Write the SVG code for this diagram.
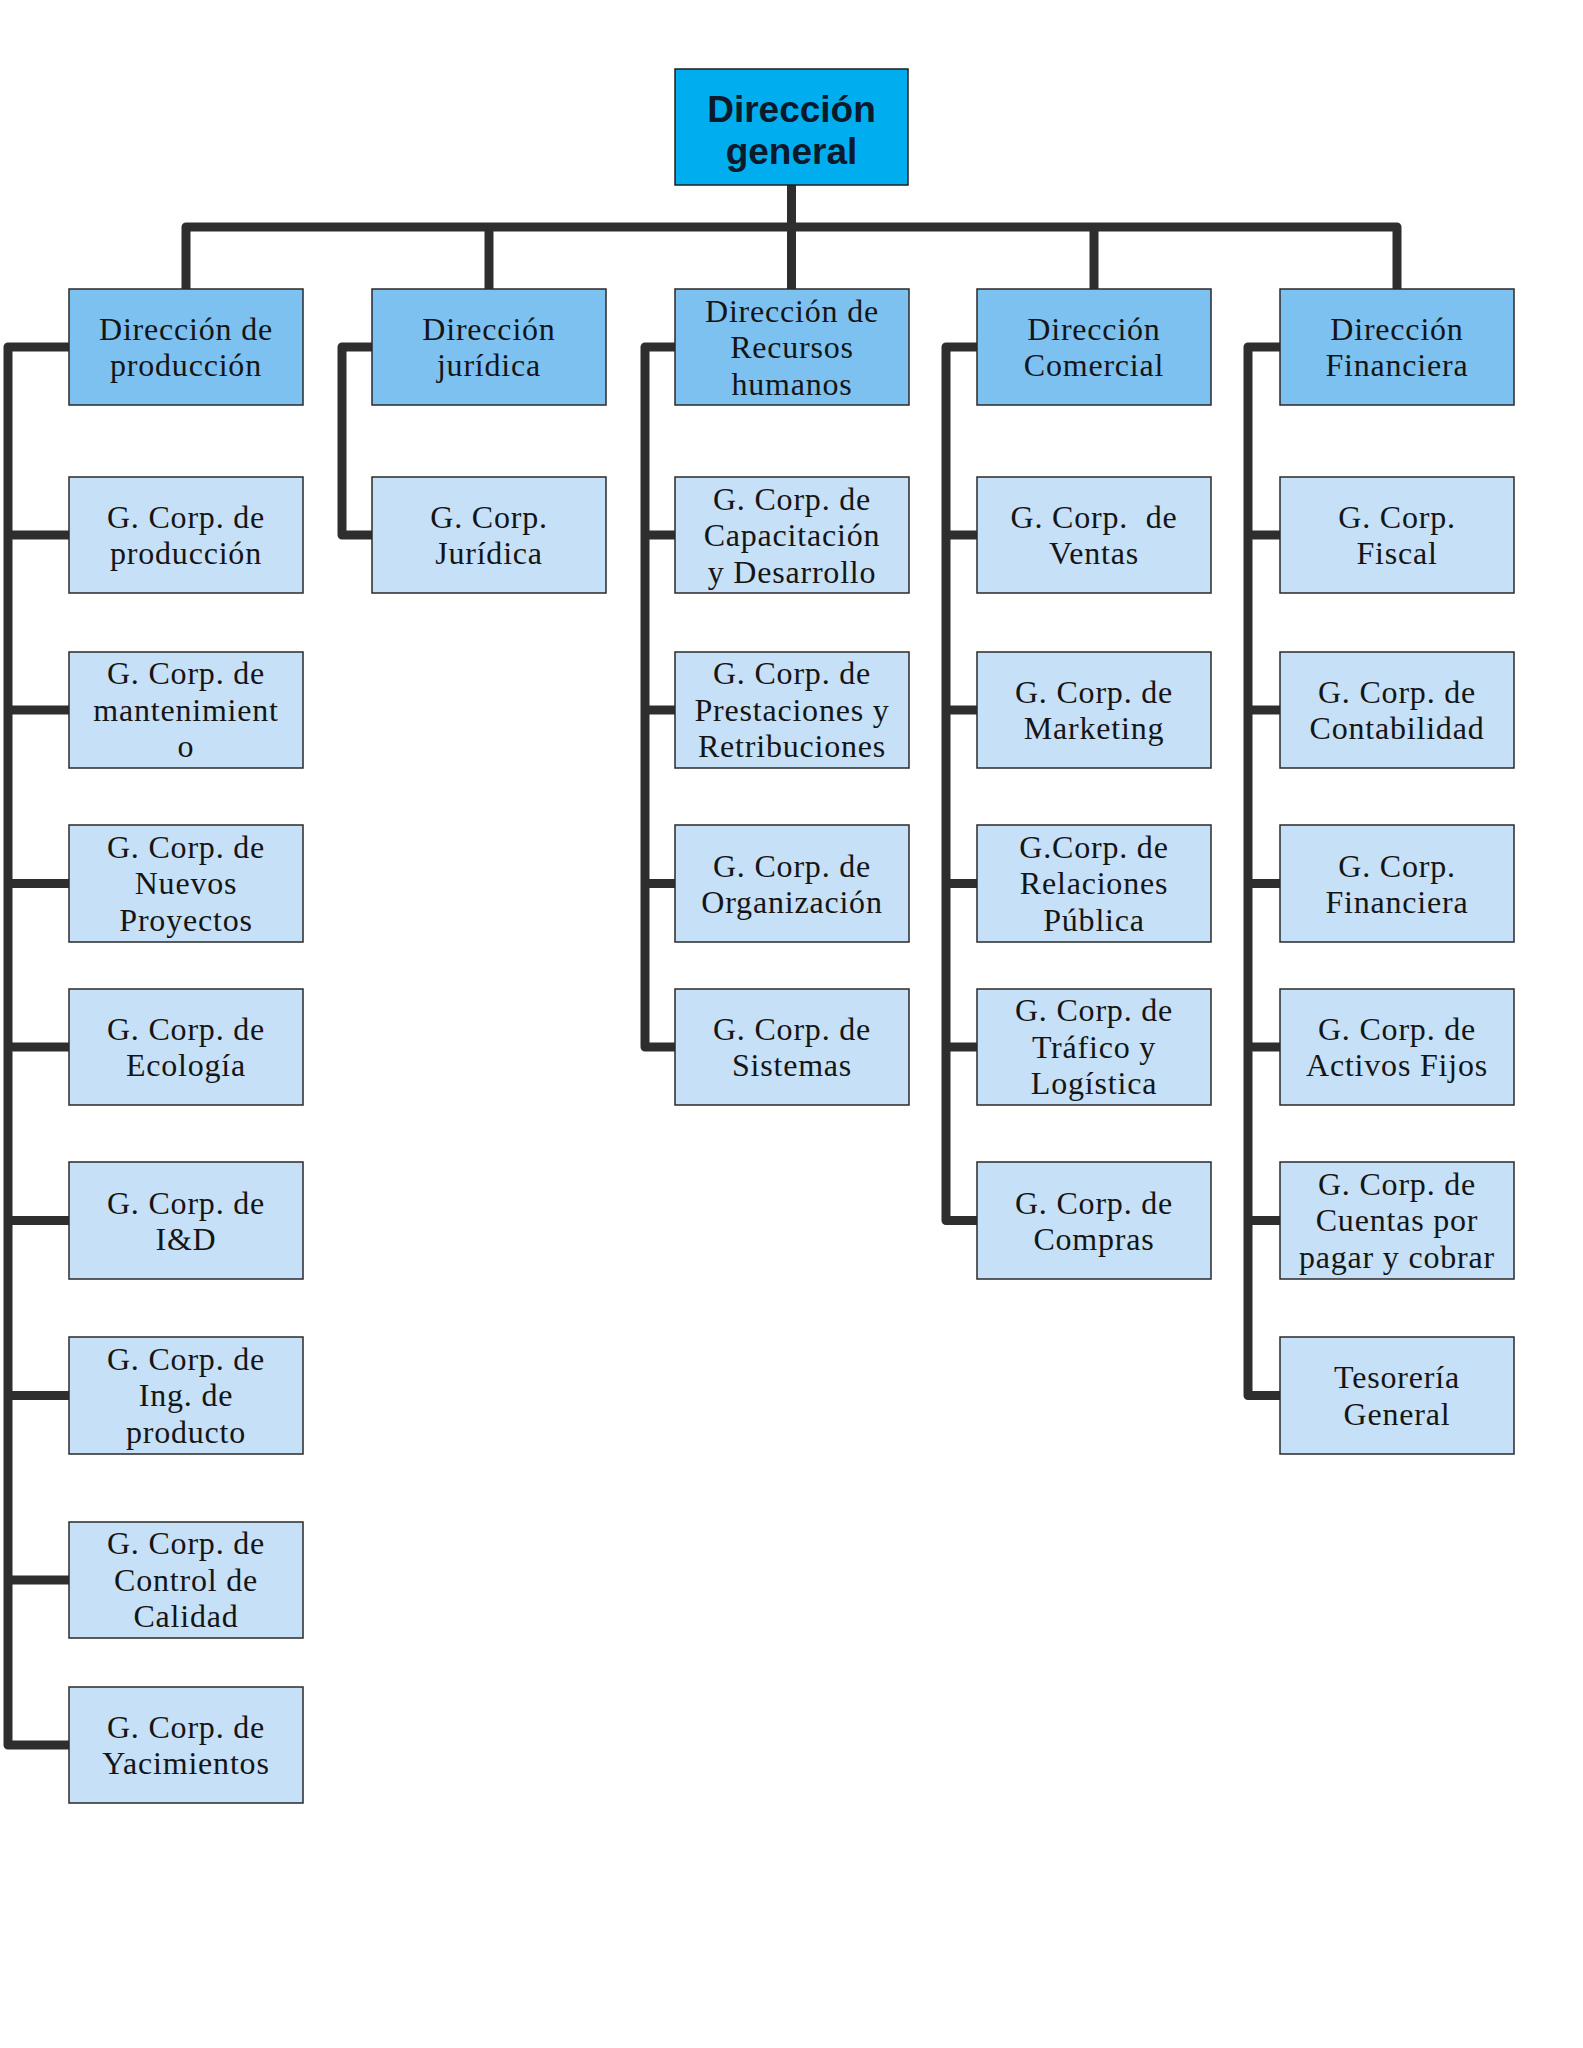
<svg xmlns="http://www.w3.org/2000/svg" width="1583" height="2048" viewBox="0 0 1583 2048">
<style>
.top{fill:#00AEEF;stroke:#1f1f1f;stroke-width:1.5}
.l2{fill:#7DC1F0;stroke:#2a2a2a;stroke-width:1.5}
.ch{fill:#C6E0F8;stroke:#2a2a2a;stroke-width:1.5}
.tt{font-family:"Liberation Sans",Arial,sans-serif;font-weight:bold;font-size:37px;fill:#0a1a2a;text-anchor:middle}
.t{font-family:"Liberation Serif","Times New Roman",serif;font-size:32px;letter-spacing:0.8px;fill:#151515;text-anchor:middle}
.c{fill:none;stroke:#2e2e2e;stroke-width:9;stroke-linejoin:round}
</style>
<rect width="1583" height="2048" fill="#ffffff"/>
<g id="connectors">
<path class="c" d="M791.5 185 V227"/>
<path class="c" d="M186 289 V227 H1397 V289"/>
<path class="c" d="M489 227 V289"/>
<path class="c" d="M791.5 227 V289"/>
<path class="c" d="M1094 227 V289"/>
<path class="c" d="M69 347 H8 V1745 H69"/>
<path class="c" d="M8 535 H69 M8 710 H69 M8 883.5 H69 M8 1047 H69 M8 1220.5 H69 M8 1395.5 H69 M8 1580 H69"/>
<path class="c" d="M372 347 H342 V535 H372"/>
<path class="c" d="M675 347 H645 V1047 H675"/>
<path class="c" d="M645 535 H675 M645 710 H675 M645 883.5 H675"/>
<path class="c" d="M977 347 H946 V1220.5 H977"/>
<path class="c" d="M946 535 H977 M946 710 H977 M946 883.5 H977 M946 1047 H977"/>
<path class="c" d="M1280 347 H1248 V1395.5 H1280"/>
<path class="c" d="M1248 535 H1280 M1248 710 H1280 M1248 883.5 H1280 M1248 1047 H1280 M1248 1220.5 H1280"/>
</g>
<g id="n-direccion-general"><rect class="top" x="675" y="69" width="233" height="116"/><text class="tt" x="791.5" y="122">Dirección</text><text class="tt" x="791.5" y="164">general</text></g>
<g id="n-dir-produccion"><rect class="l2" x="69" y="289" width="234" height="116"/><text class="t" x="186" y="340">Dirección de</text><text class="t" x="186" y="376">producción</text></g>
<g id="n-dir-juridica"><rect class="l2" x="372" y="289" width="234" height="116"/><text class="t" x="489" y="340">Dirección</text><text class="t" x="489" y="376">jurídica</text></g>
<g id="n-dir-rrhh"><rect class="l2" x="675" y="289" width="234" height="116"/><text class="t" x="792" y="322">Dirección de</text><text class="t" x="792" y="358">Recursos</text><text class="t" x="792" y="395">humanos</text></g>
<g id="n-dir-comercial"><rect class="l2" x="977" y="289" width="234" height="116"/><text class="t" x="1094" y="340">Dirección</text><text class="t" x="1094" y="376">Comercial</text></g>
<g id="n-dir-financiera"><rect class="l2" x="1280" y="289" width="234" height="116"/><text class="t" x="1397" y="340">Dirección</text><text class="t" x="1397" y="376">Financiera</text></g>

<g id="n-p1"><rect class="ch" x="69" y="477" width="234" height="116"/><text class="t" x="186" y="528">G. Corp. de</text><text class="t" x="186" y="564">producción</text></g>
<g id="n-p2"><rect class="ch" x="69" y="652" width="234" height="116"/><text class="t" x="186" y="684">G. Corp. de</text><text class="t" x="186" y="721">mantenimient</text><text class="t" x="186" y="757">o</text></g>
<g id="n-p3"><rect class="ch" x="69" y="825" width="234" height="117"/><text class="t" x="186" y="858">G. Corp. de</text><text class="t" x="186" y="894">Nuevos</text><text class="t" x="186" y="931">Proyectos</text></g>
<g id="n-p4"><rect class="ch" x="69" y="989" width="234" height="116"/><text class="t" x="186" y="1040">G. Corp. de</text><text class="t" x="186" y="1076">Ecología</text></g>
<g id="n-p5"><rect class="ch" x="69" y="1162" width="234" height="117"/><text class="t" x="186" y="1214">G. Corp. de</text><text class="t" x="186" y="1250">I&amp;D</text></g>
<g id="n-p6"><rect class="ch" x="69" y="1337" width="234" height="117"/><text class="t" x="186" y="1370">G. Corp. de</text><text class="t" x="186" y="1406">Ing. de</text><text class="t" x="186" y="1443">producto</text></g>
<g id="n-p7"><rect class="ch" x="69" y="1522" width="234" height="116"/><text class="t" x="186" y="1554">G. Corp. de</text><text class="t" x="186" y="1591">Control de</text><text class="t" x="186" y="1627">Calidad</text></g>
<g id="n-p8"><rect class="ch" x="69" y="1687" width="234" height="116"/><text class="t" x="186" y="1738">G. Corp. de</text><text class="t" x="186" y="1774">Yacimientos</text></g>

<g id="n-j1"><rect class="ch" x="372" y="477" width="234" height="116"/><text class="t" x="489" y="528">G. Corp.</text><text class="t" x="489" y="564">Jurídica</text></g>

<g id="n-r1"><rect class="ch" x="675" y="477" width="234" height="116"/><text class="t" x="792" y="510">G. Corp. de</text><text class="t" x="792" y="546">Capacitación</text><text class="t" x="792" y="583">y Desarrollo</text></g>
<g id="n-r2"><rect class="ch" x="675" y="652" width="234" height="116"/><text class="t" x="792" y="684">G. Corp. de</text><text class="t" x="792" y="721">Prestaciones y</text><text class="t" x="792" y="757">Retribuciones</text></g>
<g id="n-r3"><rect class="ch" x="675" y="825" width="234" height="117"/><text class="t" x="792" y="877">G. Corp. de</text><text class="t" x="792" y="913">Organización</text></g>
<g id="n-r4"><rect class="ch" x="675" y="989" width="234" height="116"/><text class="t" x="792" y="1040">G. Corp. de</text><text class="t" x="792" y="1076">Sistemas</text></g>

<g id="n-c1"><rect class="ch" x="977" y="477" width="234" height="116"/><text class="t" x="1094" y="528" xml:space="preserve">G. Corp.  de</text><text class="t" x="1094" y="564">Ventas</text></g>
<g id="n-c2"><rect class="ch" x="977" y="652" width="234" height="116"/><text class="t" x="1094" y="703">G. Corp. de</text><text class="t" x="1094" y="739">Marketing</text></g>
<g id="n-c3"><rect class="ch" x="977" y="825" width="234" height="117"/><text class="t" x="1094" y="858">G.Corp. de</text><text class="t" x="1094" y="894">Relaciones</text><text class="t" x="1094" y="931">Pública</text></g>
<g id="n-c4"><rect class="ch" x="977" y="989" width="234" height="116"/><text class="t" x="1094" y="1021">G. Corp. de</text><text class="t" x="1094" y="1058">Tráfico y</text><text class="t" x="1094" y="1094">Logística</text></g>
<g id="n-c5"><rect class="ch" x="977" y="1162" width="234" height="117"/><text class="t" x="1094" y="1214">G. Corp. de</text><text class="t" x="1094" y="1250">Compras</text></g>

<g id="n-f1"><rect class="ch" x="1280" y="477" width="234" height="116"/><text class="t" x="1397" y="528">G. Corp.</text><text class="t" x="1397" y="564">Fiscal</text></g>
<g id="n-f2"><rect class="ch" x="1280" y="652" width="234" height="116"/><text class="t" x="1397" y="703">G. Corp. de</text><text class="t" x="1397" y="739">Contabilidad</text></g>
<g id="n-f3"><rect class="ch" x="1280" y="825" width="234" height="117"/><text class="t" x="1397" y="877">G. Corp.</text><text class="t" x="1397" y="913">Financiera</text></g>
<g id="n-f4"><rect class="ch" x="1280" y="989" width="234" height="116"/><text class="t" x="1397" y="1040">G. Corp. de</text><text class="t" x="1397" y="1076">Activos Fijos</text></g>
<g id="n-f5"><rect class="ch" x="1280" y="1162" width="234" height="117"/><text class="t" x="1397" y="1195">G. Corp. de</text><text class="t" x="1397" y="1231">Cuentas por</text><text class="t" x="1397" y="1268">pagar y cobrar</text></g>
<g id="n-f6"><rect class="ch" x="1280" y="1337" width="234" height="117"/><text class="t" x="1397" y="1388">Tesorería</text><text class="t" x="1397" y="1425">General</text></g>
</svg>
